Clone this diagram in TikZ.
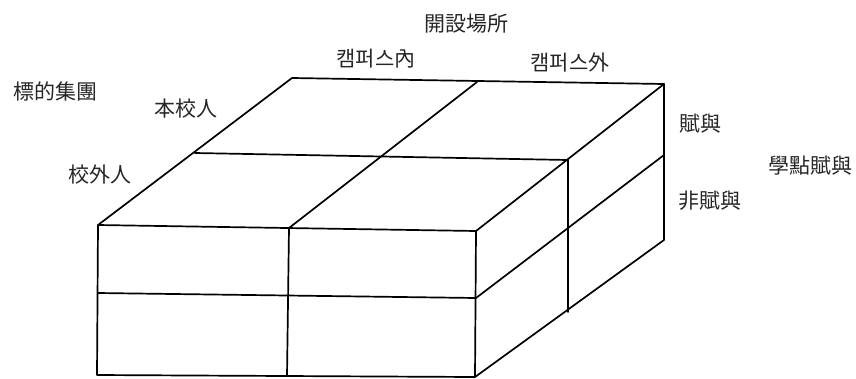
\documentclass[tikz,border=0pt]{standalone}
\usepackage{fontspec}
\setmainfont{Noto Sans CJK KR}
\begin{document}
\begin{tikzpicture}[x=1pt,y=-1pt,
  edge/.style={line width=1.7pt,black,line join=round,line cap=round},
  lbl/.style={inner sep=0pt,font=\fontsize{21}{23}\selectfont,text=black!85}]
\useasboundingbox (0,0) rectangle (856,378);
% top face
\coordinate (TBL) at (292,78);  \coordinate (TBM) at (477,82);  \coordinate (TBR) at (664,84);
\coordinate (TML) at (195,153); \coordinate (TMM) at (380,156); \coordinate (TMR) at (568,160);
\coordinate (TFL) at (98,225);  \coordinate (TFM) at (289,228); \coordinate (TFR) at (476,231);
% front face
\coordinate (FML) at (98,293);  \coordinate (FMM) at (288,296); \coordinate (FMR) at (476,298);
\coordinate (FBL) at (97,375);  \coordinate (FBM) at (287,376); \coordinate (FBR) at (475,377);
% right face
\coordinate (RMB) at (664,155); \coordinate (RBB) at (664,240);
\coordinate (RMV) at (568,312);
% top face lines
\draw[edge] (TFL) -- (TBL) -- (TBR) -- (TFR) -- cycle;
\draw[edge] (TFM) -- (TBM);
\draw[edge] (TML) -- (TMR);
% front face lines
\draw[edge] (TFL) -- (FBL) -- (FBR) -- (TFR);
\draw[edge] (TFM) -- (FBM);
\draw[edge] (FML) -- (FMR);
% right face lines
\draw[edge] (TBR) -- (RBB) -- (FBR);
\draw[edge] (FMR) -- (RMB);
\draw[edge] (TMR) -- (RMV);
% labels
\node[lbl] (kaiset) at (466,24) {開設場所};
\node[lbl] (campin) at (376,59) {캠퍼스內};
\node[lbl] (campout) at (570,62) {캠퍼스外};
\node[lbl] (target) at (55,91) {標的集團};
\node[lbl] (honko) at (186,109) {本校人};
\node[lbl] (kogai) at (100,175) {校外人};
\node[lbl] (fuyo) at (700,124) {賦與};
\node[lbl] (gakuten) at (810,166) {學點賦與};
\node[lbl] (hifuyo) at (710,201) {非賦與};
\end{tikzpicture}
\end{document}
